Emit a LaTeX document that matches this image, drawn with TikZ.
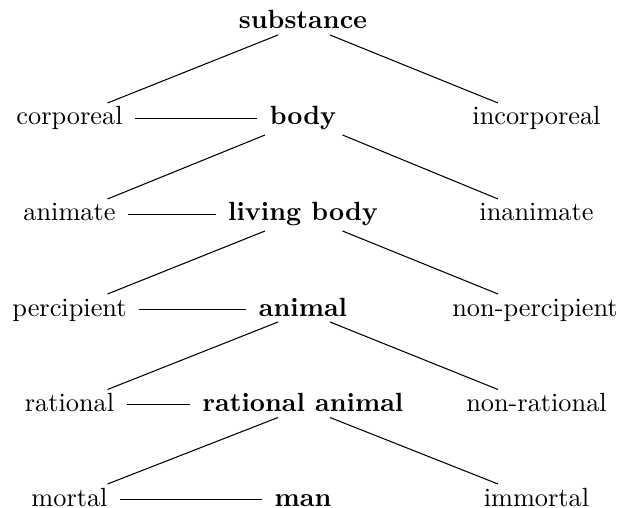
\documentclass[tikz,border=0pt]{standalone}
\usetikzlibrary{calc}
\begin{document}
\begin{tikzpicture}[x=0.38pt,y=-0.38pt,
  term/.style={anchor=base, inner xsep=4.6pt, inner ysep=0pt, text height=6.94pt, text depth=1.94pt},
  genus/.style={term, font=\bfseries},
  link/.style={line width=0.4pt}]
\useasboundingbox (0,0) rectangle (622,508);
% nodes
\node[genus] (sub) at (303,29) {substance};
\node[term] (corp) at (69.5,125) {corporeal};
\node[genus] (body) at (303,125) {body};
\node[term] (incorp) at (536.5,125) {incorporeal};
\node[term] (anim) at (69.5,221) {animate};
\node[genus] (living) at (303,221) {living body};
\node[term] (inan) at (536.5,221) {inanimate};
\node[term] (perc) at (69.5,316) {percipient};
\node[genus] (animal) at (303,316) {animal};
\node[term] (nonperc) at (535,316) {non-percipient};
\node[term] (rat) at (69.5,411.5) {rational};
\node[genus] (ratanimal) at (303,411.5) {rational animal};
\node[term] (nonrat) at (536.5,411.5) {non-rational};
\node[term] (mortal) at (69.5,506) {mortal};
\node[genus] (man) at (303,506) {man};
\node[term] (immortal) at (536.5,506) {immortal};
% horizontal links
\draw[link] (corp.east) -- (body.west);
\draw[link] (anim.east) -- (living.west);
\draw[link] (perc.east) -- (animal.west);
\draw[link] (rat.east) -- (ratanimal.west);
\draw[link] (mortal.east) -- (man.west);
% diagonal links
\draw[link] ($(sub.base)+(-25,6)$) -- ($(corp.base)+(38,-22)$);
\draw[link] ($(sub.base)+(27,6)$) -- ($(incorp.base)+(-38.5,-22)$);
\draw[link] ($(body.base)+(-38,10)$) -- ($(anim.base)+(38,-22)$);
\draw[link] ($(body.base)+(39.5,10)$) -- ($(inan.base)+(-38.5,-22)$);
\draw[link] ($(living.base)+(-38,10)$) -- ($(perc.base)+(38,-22)$);
\draw[link] ($(living.base)+(39.5,10)$) -- ($(nonperc.base)+(-37,-22)$);
\draw[link] ($(animal.base)+(-25,6)$) -- ($(rat.base)+(38,-22)$);
\draw[link] ($(animal.base)+(27,6)$) -- ($(nonrat.base)+(-38.5,-22)$);
\draw[link] ($(ratanimal.base)+(-25,6)$) -- ($(mortal.base)+(38,-22)$);
\draw[link] ($(ratanimal.base)+(27,6)$) -- ($(immortal.base)+(-38.5,-22)$);
\end{tikzpicture}
\end{document}
